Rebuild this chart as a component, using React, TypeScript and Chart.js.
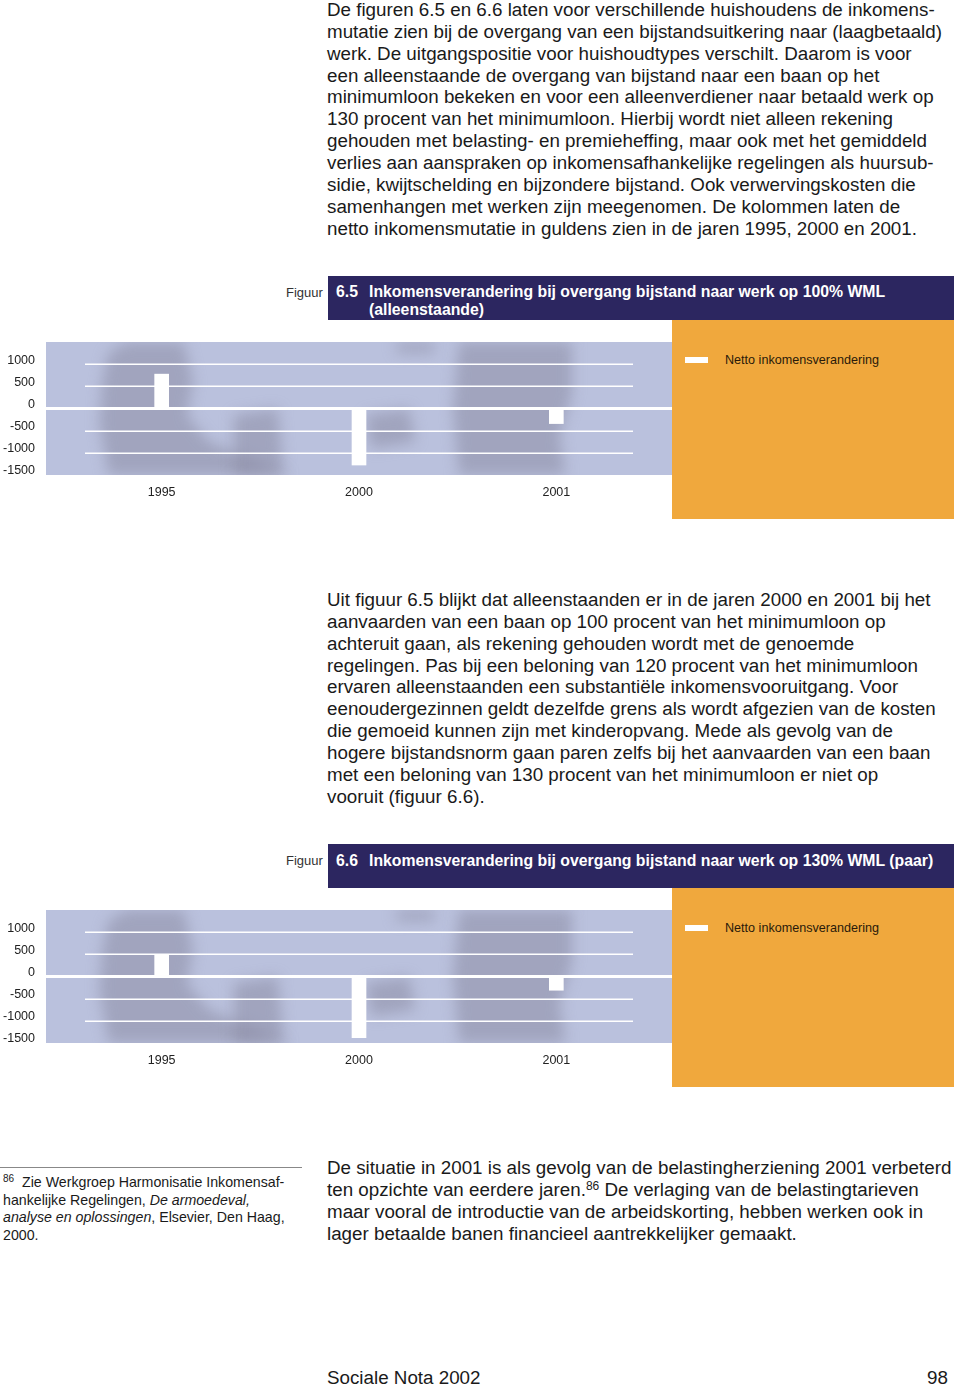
import React, { useEffect, useRef } from 'react';
import { Chart, registerables } from 'chart.js';

Chart.register(...registerables);

const categories = ['1995', '2000', '2001'];
const fig65Values = [775, -1275, -340];
const fig66Values = [500, -1380, -310];
const yTickValues = [1000, 500, 0, -500, -1000, -1500];
const seriesLabel = 'Netto inkomensverandering';

const FONT = '"Liberation Sans", Arial, Helvetica, sans-serif';
const NAVY = '#2c2660';
const ORANGE = '#f0a83d';

const para1 = [
  'De figuren 6.5 en 6.6 laten voor verschillende huishoudens de inkomens-',
  'mutatie zien bij de overgang van een bijstandsuitkering naar (laagbetaald)',
  'werk. De uitgangspositie voor huishoudtypes verschilt. Daarom is voor',
  'een alleenstaande de overgang van bijstand naar een baan op het',
  'minimumloon bekeken en voor een alleenverdiener naar betaald werk op',
  '130 procent van het minimumloon. Hierbij wordt niet alleen rekening',
  'gehouden met belasting- en premieheffing, maar ook met het gemiddeld',
  'verlies aan aanspraken op inkomensafhankelijke regelingen als huursub-',
  'sidie, kwijtschelding en bijzondere bijstand. Ook verwervingskosten die',
  'samenhangen met werken zijn meegenomen. De kolommen laten de',
  'netto inkomensmutatie in guldens zien in de jaren 1995, 2000 en 2001.',
];

const para2 = [
  'Uit figuur 6.5 blijkt dat alleenstaanden er in de jaren 2000 en 2001 bij het',
  'aanvaarden van een baan op 100 procent van het minimumloon op',
  'achteruit gaan, als rekening gehouden wordt met de genoemde',
  'regelingen. Pas bij een beloning van 120 procent van het minimumloon',
  'ervaren alleenstaanden een substantiële inkomensvooruitgang. Voor',
  'eenoudergezinnen geldt dezelfde grens als wordt afgezien van de kosten',
  'die gemoeid kunnen zijn met kinderopvang. Mede als gevolg van de',
  'hogere bijstandsnorm gaan paren zelfs bij het aanvaarden van een baan',
  'met een beloning van 130 procent van het minimumloon er niet op',
  'vooruit (figuur 6.6).',
];

const MAIN_SIZE = 18.8;
const PITCH = 21.85;

function Line({ x, y, children, size = MAIN_SIZE, style = {} }: any) {
  return (
    <div
      style={{
        position: 'absolute',
        left: x,
        top: y - 9,
        height: 18,
        lineHeight: '18px',
        fontSize: size,
        fontFamily: FONT,
        color: '#1a1a1a',
        whiteSpace: 'pre',
        ...style,
      }}
    >
      {children}
    </div>
  );
}

function Sup({ size, lift, children }: any) {
  return (
    <span style={{ position: 'relative', top: -lift, fontSize: size, lineHeight: 0 }}>{children}</span>
  );
}

// soft silhouettes of the background photo, as fractions of the band
const blobs: number[][][] = [
  [[0.1, 0.08], [0.13, 0.0], [0.22, 0.0], [0.235, 0.3], [0.225, 0.55], [0.26, 0.75], [0.39, 1.0], [0.1, 1.0], [0.085, 0.6], [0.09, 0.3]],
  [[0.3, 0.55], [0.37, 0.5], [0.38, 1.0], [0.3, 1.0]],
  [[0.51, 0.55], [0.58, 0.5], [0.59, 0.75], [0.52, 0.8]],
  [[0.56, 0.0], [0.62, 0.0], [0.62, 0.08], [0.56, 0.08]],
  [[0.66, 0.0], [0.84, 0.0], [0.84, 0.4], [0.82, 0.7], [0.83, 1.0], [0.66, 1.0], [0.65, 0.5]],
];

const bandPlugin = {
  id: 'band',
  beforeDraw(chart: any) {
    const { ctx, chartArea, scales } = chart;
    const left = chartArea.left - 17;
    const right = chart.width;
    const top = chartArea.top;
    const bottom = chartArea.bottom;
    const w = right - left;
    const h = bottom - top;
    ctx.save();
    ctx.fillStyle = '#bac1dd';
    ctx.fillRect(left, top, w, h);
    ctx.beginPath();
    ctx.rect(left, top, w, h);
    ctx.clip();
    ctx.filter = 'blur(7px)';
    ctx.fillStyle = 'rgba(135,135,160,0.5)';
    blobs.forEach((poly) => {
      ctx.beginPath();
      poly.forEach(([px, py], i) => {
        const X = left + px * w;
        const Y = top + py * h;
        if (i === 0) ctx.moveTo(X, Y);
        else ctx.lineTo(X, Y);
      });
      ctx.closePath();
      ctx.fill();
    });
    ctx.filter = 'none';
    ctx.restore();

    const y = scales.y;
    ctx.save();
    ctx.strokeStyle = '#ffffff';
    ctx.lineWidth = 1.5;
    yTickValues.forEach((v) => {
      if (v === 0 || v === y.min) return;
      const py = Math.round(y.getPixelForValue(v)) + 0.25;
      ctx.beginPath();
      ctx.moveTo(chartArea.left + 22, py);
      ctx.lineTo(chartArea.right - 22, py);
      ctx.stroke();
    });
    ctx.lineWidth = 3;
    const zy = y.getPixelForValue(0);
    ctx.beginPath();
    ctx.moveTo(left, zy);
    ctx.lineTo(right, zy);
    ctx.stroke();
    ctx.restore();
  },
};

function BarChart({ values, bandTop }: { values: number[]; bandTop: number }) {
  const ref = useRef<HTMLCanvasElement>(null);
  useEffect(() => {
    if (!ref.current) return;
    const chart = new Chart(ref.current, {
      type: 'bar',
      data: {
        labels: categories,
        datasets: [
          {
            label: seriesLabel,
            data: values,
            backgroundColor: '#ffffff',
            borderWidth: 0,
            barThickness: 14,
          },
        ],
      },
      options: {
        responsive: true,
        maintainAspectRatio: false,
        animation: false,
        events: [],
        layout: { padding: { top: 2, right: 17, bottom: 20, left: 0 } },
        plugins: { legend: { display: false }, tooltip: { enabled: false } },
        scales: {
          x: {
            afterFit: (s: any) => {
              s.height = 25;
              s.paddingLeft = 0;
              s.paddingRight = 0;
            },
            grid: { display: false, drawTicks: false },
            border: { display: false },
            ticks: { color: '#222', font: { family: FONT, size: 12.5 }, padding: 10, maxRotation: 0 },
          },
          y: {
            min: -1500,
            max: 1500,
            afterFit: (s: any) => {
              s.width = 63;
              s.paddingTop = 0;
              s.paddingBottom = 0;
            },
            afterBuildTicks: (s: any) => {
              s.ticks = yTickValues.map((v) => ({ value: v }));
            },
            grid: { display: false, drawTicks: false },
            border: { display: false },
            ticks: {
              autoSkip: false,
              color: '#222',
              font: { family: FONT, size: 12.5 },
              padding: 28,
              labelOffset: -4,
              callback: (v: any) => String(v),
            },
          },
        },
      } as any,
      plugins: [bandPlugin],
    });
    return () => chart.destroy();
  }, [values]);
  return (
    <div style={{ position: 'absolute', left: 0, top: bandTop - 2, width: 672, height: 180 }}>
      <canvas ref={ref} />
    </div>
  );
}

function Figure({
  titleTop,
  number,
  titleLines,
  values,
}: {
  titleTop: number;
  number: string;
  titleLines: string[];
  values: number[];
}) {
  const boxTop = titleTop + 44;
  const bandTop = boxTop + 22;
  const firstCenter = titleLines.length > 1 ? titleTop + 16 : titleTop + 17;
  const tStyle = { color: '#fff', fontWeight: 'bold' };
  return (
    <>
      <Line x={286} y={titleTop + 17} size={13} style={{ color: '#333' }}>
        Figuur
      </Line>
      <div style={{ position: 'absolute', left: 328, top: titleTop, width: 626, height: 44, background: NAVY }} />
      <Line x={336} y={firstCenter} size={15.8} style={tStyle}>
        {number}
      </Line>
      {titleLines.map((t, i) => (
        <Line key={i} x={369} y={firstCenter + i * 18} size={15.8} style={tStyle}>
          {t}
        </Line>
      ))}
      <div style={{ position: 'absolute', left: 672, top: boxTop, width: 282, height: 199, background: ORANGE }} />
      <BarChart values={values} bandTop={bandTop} />
      <div style={{ position: 'absolute', left: 685, top: bandTop + 15, width: 23, height: 6, background: '#fff' }} />
      <Line x={725} y={bandTop + 18} size={12.6} style={{ color: '#2a1a0a' }}>
        {seriesLabel}
      </Line>
    </>
  );
}

export default function App() {
  return (
    <div style={{ position: 'absolute', left: 0, top: 0, width: 960, height: 1387, background: '#fff', overflow: 'hidden' }}>
      {para1.map((t, i) => (
        <Line key={'a' + i} x={327} y={10 + i * PITCH}>
          {t}
        </Line>
      ))}

      <Figure
        titleTop={276}
        number="6.5"
        titleLines={['Inkomensverandering bij overgang bijstand naar werk op 100% WML', '(alleenstaande)']}
        values={fig65Values}
      />

      {para2.map((t, i) => (
        <Line key={'b' + i} x={327} y={600 + i * PITCH}>
          {t}
        </Line>
      ))}

      <Figure
        titleTop={844}
        number="6.6"
        titleLines={['Inkomensverandering bij overgang bijstand naar werk op 130% WML (paar)']}
        values={fig66Values}
      />

      <div style={{ position: 'absolute', left: 0, top: 1167, width: 302, height: 1, background: '#888' }} />
      <Line x={3} y={1182} size={14.2}>
        <Sup size={10} lift={5}>86</Sup>
        {'  Zie Werkgroep Harmonisatie Inkomensaf-'}
      </Line>
      <Line x={3} y={1199.5} size={14.2}>
        {'hankelijke Regelingen, '}
        <i>De armoedeval,</i>
      </Line>
      <Line x={3} y={1217} size={14.2}>
        <i>analyse en oplossingen</i>
        {', Elsevier, Den Haag,'}
      </Line>
      <Line x={3} y={1234.5} size={14.2}>
        2000.
      </Line>

      <Line x={327} y={1168}>
        De situatie in 2001 is als gevolg van de belastingherziening 2001 verbeterd
      </Line>
      <Line x={327} y={1190}>
        {'ten opzichte van eerdere jaren.'}
        <Sup size={12} lift={6}>86</Sup>
        {' De verlaging van de belastingtarieven'}
      </Line>
      <Line x={327} y={1212}>
        maar vooral de introductie van de arbeidskorting, hebben werken ook in
      </Line>
      <Line x={327} y={1234}>
        lager betaalde banen financieel aantrekkelijker gemaakt.
      </Line>

      <Line x={327} y={1378}>
        Sociale Nota 2002
      </Line>
      <Line x={900} y={1378} style={{ width: 48, textAlign: 'right' }}>
        98
      </Line>
    </div>
  );
}
